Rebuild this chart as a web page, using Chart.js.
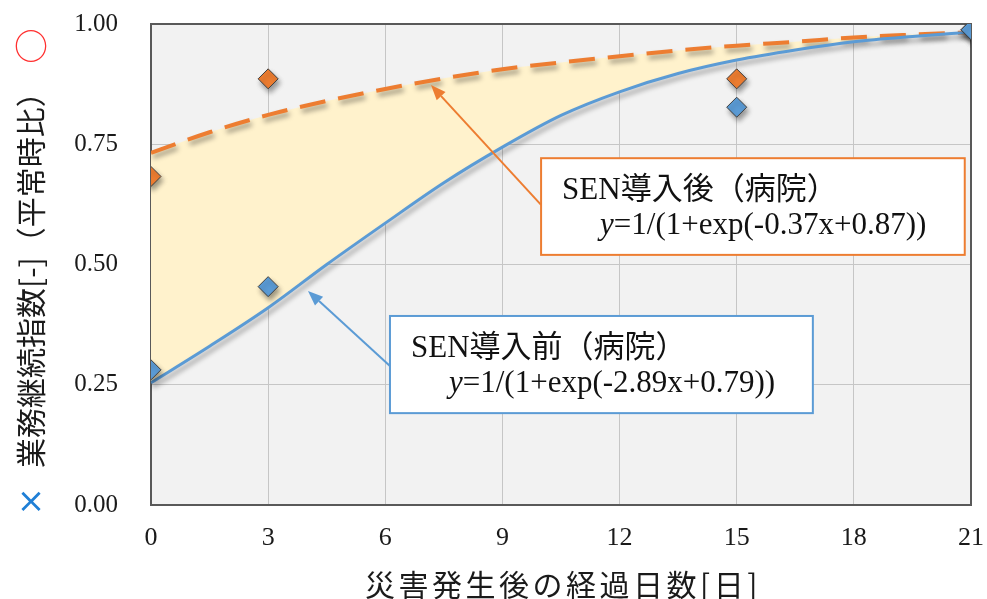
<!DOCTYPE html>
<html>
<head>
<meta charset="utf-8">
<script src="https://cdn.jsdelivr.net/npm/chart.js@4.4.1/dist/chart.umd.min.js"></script>
<style>
  html, body { margin: 0; padding: 0; background: #ffffff; }
  #wrap { width: 987px; height: 599px; position: relative; }
</style>
</head>
<body>
<div id="wrap"><canvas id="chart" width="987" height="599"></canvas></div>
<script>
// Observed business-continuity index (ratio to normal operation)
const obsDays = [0, 3, 15, 21];
const beforeObs = [0.281, 0.454, 0.827, 0.988];   // SEN導入前
const afterObs  = [0.683, 0.886, 0.886, 0.988];   // SEN導入後

// Fitted recovery curves, sampled every 1.5 days
const curveDays   = [0, 1.5, 3, 4.5, 6, 7.5, 9, 10.5, 12, 13.5, 15, 16.5, 18, 19.5, 21];
const beforeCurve = [0.254, 0.33, 0.41, 0.50, 0.586, 0.67, 0.744, 0.81, 0.859, 0.897, 0.925, 0.946, 0.963, 0.974, 0.983];
const afterCurve  = [0.732, 0.775, 0.811, 0.84, 0.865, 0.887, 0.906, 0.92, 0.933, 0.945, 0.955, 0.963, 0.972, 0.978, 0.983];

// Axes
const xTicks = [0, 3, 6, 9, 12, 15, 18, 21];
const yTicks = [0, 0.25, 0.5, 0.75, 1];
const xTitle = '災害発生後の経過日数[日]';
const yTitle = '業務継続指数[-]（平常時比）';
const yTopMark = '○';
const yBottomMark = '×';

// Callout labels
const afterLabel  = 'SEN導入後（病院）';
const afterFormula  = '=1/(1+exp(-0.37x+0.87))';
const beforeLabel = 'SEN導入前（病院）';
const beforeFormula = '=1/(1+exp(-2.89x+0.79))';

const ORANGE = '#ED7D31';
const BLUE = '#5B9BD5';

const toXY = (xs, ys) => xs.map((x, i) => ({ x: x, y: ys[i] }));

// Callouts anchored in data units: box corners, arrow start on box edge, arrow tip on the curve
const callouts = [
  { label: afterLabel, formula: afterFormula, color: ORANGE,
    box: { x0: 9.99, x1: 20.84, y0: 0.721, y1: 0.52 },
    from: { x: 9.99, y: 0.624 }, tip: { x: 7.17, y: 0.873 } },
  { label: beforeLabel, formula: beforeFormula, color: BLUE,
    box: { x0: 6.12, x1: 16.95, y0: 0.393, y1: 0.191 },
    from: { x: 6.12, y: 0.289 }, tip: { x: 4.02, y: 0.445 } }
];

const plotBackground = {
  id: 'plotBackground',
  beforeDraw(chart) {
    const { ctx, chartArea: a } = chart;
    ctx.save();
    ctx.fillStyle = '#ffffff';
    ctx.fillRect(0, 0, chart.width, chart.height);
    ctx.fillStyle = '#f2f2f2';
    ctx.fillRect(a.left, a.top, a.right - a.left, a.bottom - a.top);
    ctx.restore();
  },
  beforeDatasetsDraw(chart) {
    const { ctx, chartArea: a } = chart;
    ctx.save();
    ctx.strokeStyle = '#595959';
    ctx.lineWidth = 2;
    ctx.strokeRect(a.left, a.top, a.right - a.left, a.bottom - a.top);
    ctx.restore();
  }
};

// Soft drop shadow under lines and markers (fill area is drawn before this runs)
const dropShadow = {
  id: 'dropShadow',
  beforeDatasetDraw(chart) {
    const ctx = chart.ctx;
    ctx.save();
    ctx.shadowColor = 'rgba(0,0,0,0.38)';
    ctx.shadowBlur = 5;
    ctx.shadowOffsetX = 2;
    ctx.shadowOffsetY = 4;
  },
  afterDatasetDraw(chart) {
    chart.ctx.restore();
  }
};

function drawArrow(ctx, x1, y1, x2, y2, color) {
  const ang = Math.atan2(y2 - y1, x2 - x1);
  const headLen = 15, headHalf = 6;
  const bx = x2 - headLen * Math.cos(ang);
  const by = y2 - headLen * Math.sin(ang);
  ctx.save();
  ctx.strokeStyle = color;
  ctx.fillStyle = color;
  ctx.lineWidth = 2;
  ctx.beginPath();
  ctx.moveTo(x1, y1);
  ctx.lineTo(bx, by);
  ctx.stroke();
  ctx.beginPath();
  ctx.moveTo(x2, y2);
  ctx.lineTo(bx + headHalf * Math.sin(ang), by - headHalf * Math.cos(ang));
  ctx.lineTo(bx - headHalf * Math.sin(ang), by + headHalf * Math.cos(ang));
  ctx.closePath();
  ctx.fill();
  ctx.restore();
}

const annotations = {
  id: 'annotations',
  afterDraw(chart) {
    const { ctx } = chart;
    const xs = chart.scales.x, ys = chart.scales.y;
    const serif = '"Liberation Serif", "Noto Sans CJK JP", serif';

    callouts.forEach(c => {
      const l = xs.getPixelForValue(c.box.x0), r = xs.getPixelForValue(c.box.x1);
      const t = ys.getPixelForValue(c.box.y0), b = ys.getPixelForValue(c.box.y1);
      drawArrow(ctx, xs.getPixelForValue(c.from.x), ys.getPixelForValue(c.from.y),
                xs.getPixelForValue(c.tip.x), ys.getPixelForValue(c.tip.y), c.color);
      ctx.save();
      ctx.fillStyle = '#ffffff';
      ctx.fillRect(l, t, r - l, b - t);
      ctx.strokeStyle = c.color;
      ctx.lineWidth = 2;
      ctx.strokeRect(l, t, r - l, b - t);
      ctx.fillStyle = '#111111';
      ctx.textBaseline = 'alphabetic';
      ctx.textAlign = 'left';
      ctx.font = '31px ' + serif;
      ctx.fillText(c.label, l + 21, t + 41);
      ctx.font = 'italic 31px ' + serif;
      const yw = ctx.measureText('y').width;
      ctx.fillText('y', l + 59, t + 76);
      ctx.font = '31px ' + serif;
      ctx.fillText(c.formula, l + 59 + yw, t + 76);
      ctx.restore();
    });

    // Axis titles
    ctx.save();
    ctx.fillStyle = '#1a1a1a';
    ctx.font = '30px "Noto Sans CJK JP", sans-serif';
    ctx.textAlign = 'center';
    ctx.textBaseline = 'middle';
    if ('letterSpacing' in ctx) ctx.letterSpacing = '3.5px';
    ctx.fillText(xTitle, (chart.chartArea.left + chart.chartArea.right) / 2 + 2, 585);
    if ('letterSpacing' in ctx) ctx.letterSpacing = '0px';
    ctx.restore();

    ctx.save();
    ctx.fillStyle = '#1a1a1a';
    ctx.translate(31, 468);
    ctx.rotate(-Math.PI / 2);
    ctx.font = '30px "Noto Sans CJK JP", sans-serif';
    ctx.textAlign = 'left';
    ctx.textBaseline = 'middle';
    ctx.fillText(yTitle, 0, 0);
    ctx.restore();

    ctx.save();
    ctx.textAlign = 'center';
    ctx.textBaseline = 'middle';
    ctx.font = '34px "Noto Sans CJK JP", sans-serif';
    ctx.fillStyle = '#ff3030';
    ctx.fillText(yTopMark, 31, 46);
    ctx.fillStyle = '#1f7fd6';
    ctx.font = '34px "DejaVu Sans", sans-serif';
    ctx.fillText(yBottomMark, 31, 503);
    ctx.restore();
  }
};

const yTickFont = { family: '"Liberation Serif", serif', size: 25 };
const xTickFont = { family: '"Liberation Serif", serif', size: 26 };

new Chart(document.getElementById('chart'), {
  type: 'line',
  data: {
    datasets: [
      { label: 'SEN導入前 実績', data: toXY(obsDays, beforeObs), showLine: false,
        pointStyle: 'rectRot', pointRadius: 10, pointBackgroundColor: BLUE,
        pointBorderColor: '#404040', pointBorderWidth: 1, order: 0 },
      { label: 'SEN導入後 実績', data: toXY(obsDays, afterObs), showLine: false,
        pointStyle: 'rectRot', pointRadius: 10, pointBackgroundColor: ORANGE,
        pointBorderColor: '#404040', pointBorderWidth: 1, order: 1 },
      { label: 'SEN導入前（病院）', data: toXY(curveDays, beforeCurve),
        borderColor: BLUE, borderWidth: 3, pointRadius: 0,
        cubicInterpolationMode: 'monotone', fill: false, order: 2 },
      { label: 'SEN導入後（病院）', data: toXY(curveDays, afterCurve),
        borderColor: ORANGE, borderWidth: 4, borderDash: [26, 13], pointRadius: 0,
        cubicInterpolationMode: 'monotone',
        fill: { target: 2 }, backgroundColor: '#FFF2CC', order: 3 }
    ]
  },
  options: {
    responsive: false,
    devicePixelRatio: 1,
    animation: false,
    layout: { padding: { left: 0, right: 16, top: 24, bottom: 0 } },
    plugins: {
      legend: { display: false },
      tooltip: { enabled: false },
      title: { display: false }
    },
    scales: {
      x: {
        type: 'linear', min: 0, max: 21,
        afterBuildTicks: s => { s.ticks = xTicks.map(v => ({ value: v })); },
        afterFit: s => { s.height = 94; s.paddingLeft = 0; s.paddingRight = 0; },
        grid: { color: '#c6c6c6', lineWidth: 1, drawTicks: false },
        border: { display: false },
        ticks: { font: xTickFont, color: '#1a1a1a', padding: 18, maxRotation: 0, autoSkip: false }
      },
      y: {
        type: 'linear', min: 0, max: 1,
        afterBuildTicks: s => { s.ticks = yTicks.map(v => ({ value: v })); },
        afterFit: s => { s.width = 151; s.paddingTop = 0; s.paddingBottom = 0; },
        grid: { color: '#c6c6c6', lineWidth: 1, drawTicks: false },
        border: { display: false },
        ticks: { font: yTickFont, color: '#1a1a1a', padding: 33,
                 callback: v => Number(v).toFixed(2) }
      }
    }
  },
  plugins: [plotBackground, dropShadow, annotations]
});
</script>
</body>
</html>
